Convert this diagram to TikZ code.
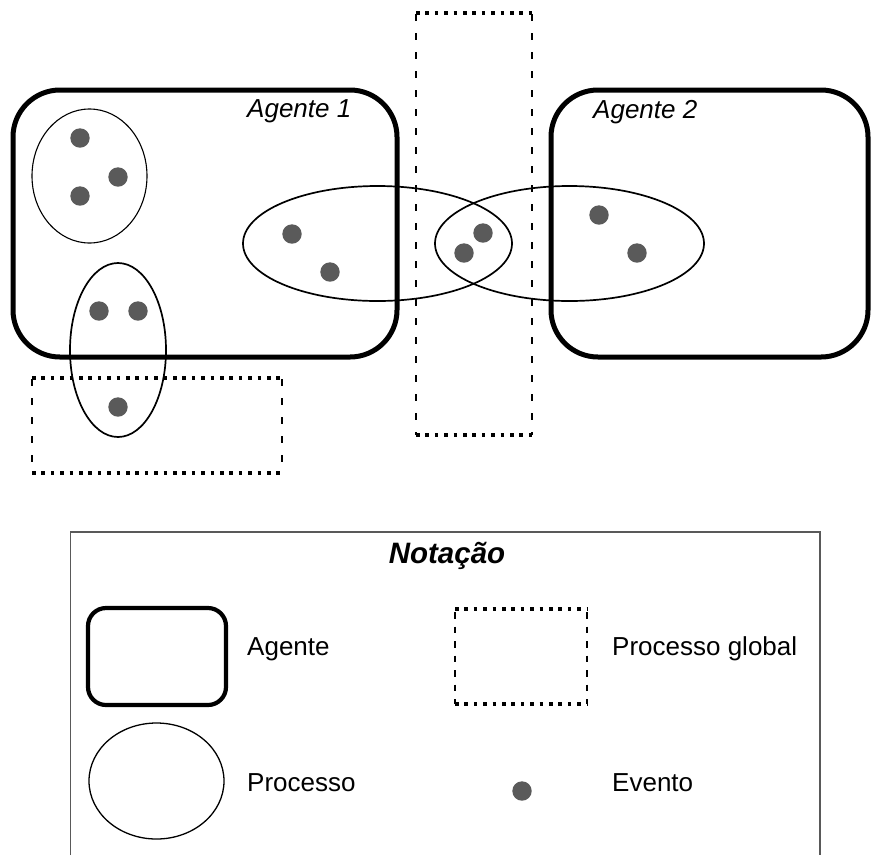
\documentclass[tikz,border=0pt]{standalone}
\usepackage{fontspec}
\setmainfont{Liberation Sans}
\begin{document}
\begin{tikzpicture}[x=1pt,y=-1pt,
  agent/.style={line width=5pt,rounded corners=47pt},
  agentsmall/.style={line width=4.2pt,rounded corners=18pt},
  proc/.style={line width=1.7pt},
  procthin/.style={line width=1.1pt},
  ev/.style={fill=evgray,draw=none},
  hdot/.style={line width=3.6pt,dash pattern=on 3.6pt off 5.8pt},
  vdash/.style={line width=2.6pt,dash pattern=on 7pt off 12pt},
  vdashs/.style={line width=2.6pt,dash pattern=on 6.5pt off 8pt},
  lbl/.style={inner sep=0pt,font=\fontsize{26}{30}\selectfont},
  lblit/.style={inner sep=0pt,font=\fontsize{26}{30}\selectfont\itshape},
  legframe/.style={line width=1.5pt,draw=black!65}
]
\definecolor{evgray}{HTML}{5A5A5A}
\useasboundingbox (0,0) rectangle (872,855);
\fill[white] (0,0) rectangle (872,855);

% Agents
\draw[agent] (13,90) rectangle (397,357);
\draw[agent] (551,90) rectangle (868,357);
\node[lblit,anchor=base west] (a1) at (247,117) {Agente 1};
\node[lblit,anchor=base west] (a2) at (593,118) {Agente 2};

% Global processes
\draw[hdot] (416,13) -- (532,13);
\draw[hdot] (416,435) -- (532,435);
\draw[vdash] (416,14) -- (416,435);
\draw[vdash] (532,14) -- (532,435);

\draw[hdot] (32,378) -- (282,378);
\draw[hdot] (32,473) -- (282,473);
\draw[vdash] (32,379) -- (32,473);
\draw[vdash] (282,379) -- (282,473);

% Processes
\draw[procthin] (89.5,176) ellipse [x radius=57.5, y radius=67];
\draw[proc] (118,350) ellipse [x radius=48, y radius=87];
\draw[proc] (377.5,243.5) ellipse [x radius=134.5, y radius=57.5];
\draw[proc] (569.5,243.5) ellipse [x radius=134.5, y radius=57.5];

% Events
\foreach \p in {(80,138),(118,177),(80,196),(99,311),(138,311),(118,407),
                (292,234),(330,272),(483,233),(464,253),(599,215),(637,253)}
  \fill[ev] \p circle (9.7);

% Legend
\draw[legframe] (70.7,855) -- (70.7,532) -- (820,532) -- (820,855);
\node[inner sep=0pt,anchor=base,font=\fontsize{29.5}{34}\selectfont\bfseries\itshape] (title) at (447,563) {Notação};

\draw[agentsmall] (88,608) rectangle (226,705);
\node[lbl,anchor=base west] (lagent) at (247,655) {Agente};

\draw[hdot] (455,609) -- (587,609);
\draw[hdot] (455,704) -- (587,704);
\draw[vdashs] (455,612) -- (455,704);
\draw[vdashs] (587,612) -- (587,704);
\node[lbl,anchor=base west] (lglobal) at (612,655) {Processo global};

\draw[proc,line width=1.3pt] (156.5,781) ellipse [x radius=67.5, y radius=58];
\node[lbl,anchor=base west] (lproc) at (247,791) {Processo};

\fill[ev] (522,791) circle (9.7);
\node[lbl,anchor=base west] (levent) at (612,791) {Evento};
\end{tikzpicture}
\end{document}
